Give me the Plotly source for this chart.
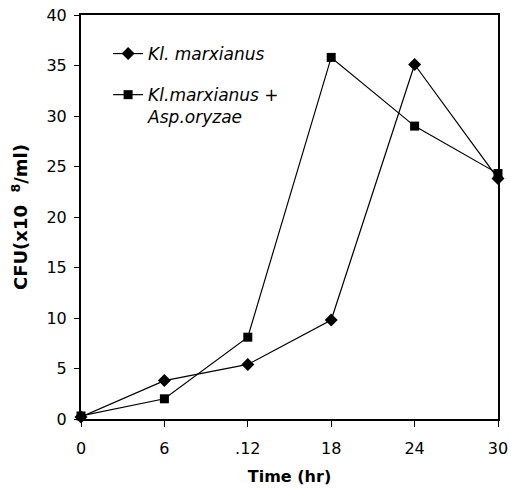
import plotly.graph_objects as go

time_hr = [0, 6, 12, 18, 24, 30]
tick_labels = ["0", "6", ".12", "18", "24", "30"]
kl_marxianus = [0.2, 3.8, 5.4, 9.8, 35.1, 23.8]
kl_asp = [0.3, 2.0, 8.1, 35.8, 29.0, 24.3]

fig = go.Figure()
fig.add_trace(go.Scatter(
    x=time_hr, y=kl_marxianus, mode="lines+markers",
    name="<i>Kl. marxianus</i>", legendgroup="a",
    line=dict(color="black", width=1.2),
    marker=dict(symbol="diamond", size=10, color="black"),
    cliponaxis=False,
))
fig.add_trace(go.Scatter(
    x=time_hr, y=kl_asp, mode="lines+markers",
    name="<i>Kl.marxianus +<br>Asp.oryzae</i>", legendgroup="b",
    line=dict(color="black", width=1.2),
    marker=dict(symbol="square", size=9, color="black"),
    cliponaxis=False,
))

font_family = "DejaVu Sans, Arial, sans-serif"
fig.update_layout(
    width=511, height=488,
    margin=dict(l=81, r=13, t=15, b=69),
    paper_bgcolor="white", plot_bgcolor="white",
    font=dict(family=font_family, size=16, color="black"),
    showlegend=True,
    legend=dict(x=0.065, y=0.948, xanchor="left", yanchor="top",
                bgcolor="rgba(0,0,0,0)", font=dict(size=17), valign="top",
                tracegroupgap=16, itemwidth=30),
    xaxis=dict(range=[0, 30], tickvals=time_hr, ticktext=tick_labels,
               showline=True, linecolor="black", linewidth=2, mirror=True,
               ticks="outside", ticklen=6, tickcolor="black", showgrid=False,
               zeroline=False, automargin=False, ticklabelstandoff=8,
               title=dict(text="<b>Time (hr)</b>", font=dict(size=16), standoff=14)),
    yaxis=dict(range=[0, 40], dtick=5,
               showline=True, linecolor="black", linewidth=2, mirror=True,
               ticks="outside", ticklen=5, tickcolor="black", showgrid=False,
               zeroline=False, automargin=False, ticklabelstandoff=4,
               title=dict(text="<b>CFU(x10  <sup>8</sup>/ml)</b>", font=dict(size=18), standoff=14)),
)
fig.write_html("out.html")
